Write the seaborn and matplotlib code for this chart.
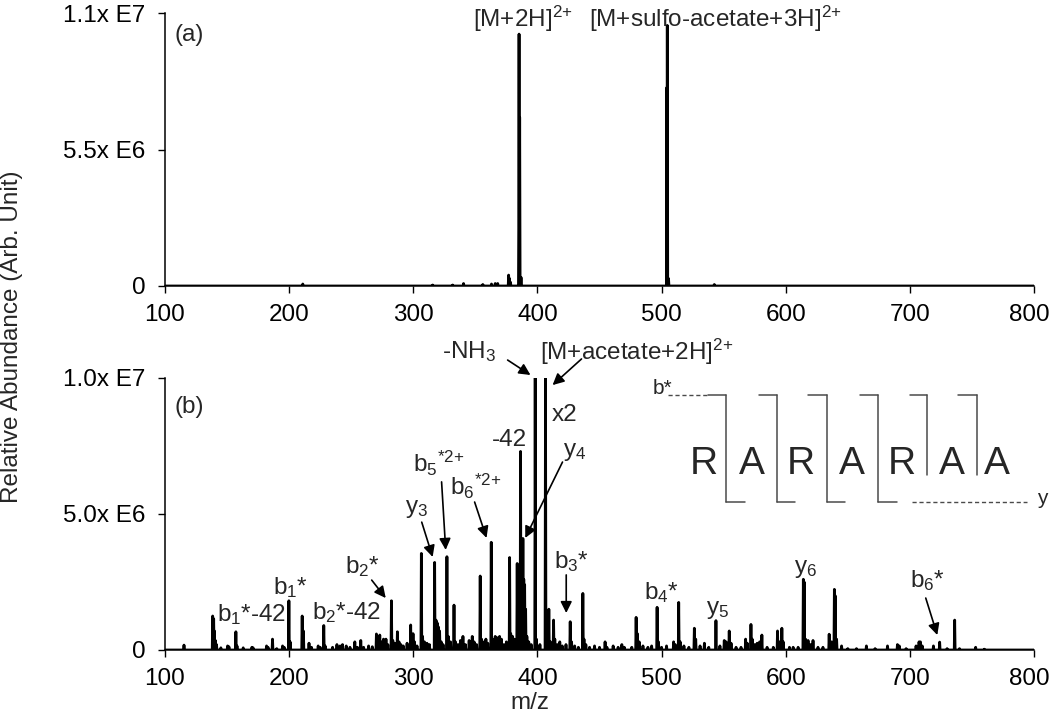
import numpy as np
import pandas as pd
import matplotlib
matplotlib.use("Agg")
import matplotlib.pyplot as plt
import matplotlib.transforms as mtransforms
import seaborn as sns

# ---------------- data ----------------
# Panel (a): full MS, peak m/z and intensity (x1e6)
mz_a = [211, 315.6, 331.7, 340.5, 356, 363, 366, 368, 376.8, 377.5, 378.3,
        385.2, 385.7, 386.8, 504.3, 504.6, 505.6, 542.5]
int_a = [0.08, 0.04, 0.04, 0.10, 0.06, 0.08, 0.10, 0.10, 0.44, 0.30, 0.15,
         10.15, 6.8, 0.35, 8.0, 10.5, 0.30, 0.06]

# Panel (b): MS/MS spectrum, peak m/z and intensity (x1e6)
mz_b = [115.3, 138.4, 139.2, 139.8, 140.6, 141.5, 145, 150.4, 151.5, 157.1, 158,
        163, 170, 171, 181.8, 183, 186.6, 190, 194.7, 196, 199.8, 200.8, 210.5,
        211.5, 216, 218, 223.4, 225, 227.9, 229, 235, 238.5, 241, 243, 246, 249,
        252.9, 255, 257.7, 260, 264, 267, 270.3, 271.5, 273, 274.5, 276, 278,
        279.5, 282.4, 283.5, 285, 287.2, 288.5, 290, 292, 295, 297.9, 299.8, 301,
        303, 306.5, 307.5, 309, 311, 313, 317.2, 318.3, 319.2, 320.2, 321.2,
        322.5, 324, 327.1, 328.2, 330, 332.8, 334, 336, 338, 340, 342, 345,
        347.5, 349, 351, 353.9, 355, 357, 358.5, 360, 362.8, 364, 366, 368,
        369.5, 371, 373, 375, 377.6, 378.5, 380, 381.5, 383.7, 384.5, 385.3,
        386.4, 387.2, 388.3, 389, 389.7, 390.5, 391.5, 393, 395, 398.2, 399.2,
        402, 406.5, 407.5, 409.2, 410.5, 413, 414, 416, 418, 420, 423, 426.4,
        427.5, 430, 433, 436.6, 437.5, 439, 442, 446, 450, 454.5, 456, 461, 465,
        468, 470, 476, 479.5, 480.5, 482, 485, 489, 492, 496.4, 497.5, 500, 504,
        509.7, 511, 513.8, 515, 518, 522, 526.4, 527.5, 531, 534.5, 538, 543.8,
        547, 550.5, 552, 554.5, 556, 560, 564, 567.7, 569, 572, 573, 575, 577,
        579, 580.8, 585, 590, 593.4, 595, 596.9, 598, 603, 606, 610, 614.2,
        614.9, 616, 618, 620, 622, 626, 630, 635, 637, 639.2, 639.8, 641, 645,
        650, 657, 665, 672, 682, 690, 691.5, 697, 705, 707.4, 708.5, 710, 719,
        724, 730, 736.1, 740, 753, 760]
int_b = [0.18, 1.25, 1.15, 0.7, 0.35, 0.2, 0.08, 0.15, 0.12, 0.67, 0.15,
         0.08, 0.1, 0.08, 0.15, 0.1, 0.4, 0.05, 0.15, 0.1, 1.81, 0.3, 1.25,
         0.7, 0.25, 0.1, 0.15, 0.1, 0.9, 0.15, 0.1, 0.2, 0.15, 0.2, 0.15, 0.1,
         0.3, 0.1, 0.35, 0.1, 0.15, 0.12, 0.59, 0.5, 0.55, 0.3, 0.4, 0.4,
         0.2, 1.81, 0.35, 0.25, 0.67, 0.3, 0.2, 0.15, 0.25, 0.92, 0.6, 0.3,
         0.15, 3.55, 0.5, 0.3, 0.25, 0.2, 3.22, 1.1, 1.0, 0.85, 0.7,
         0.3, 0.2, 3.43, 0.5, 0.3, 1.65, 0.3, 0.2, 0.35, 0.5, 0.2, 0.35,
         0.5, 0.3, 0.2, 2.72, 0.4, 0.3, 0.4, 0.25, 3.96, 0.4, 0.5, 0.45,
         0.5, 0.4, 0.2, 0.3, 3.4, 0.6, 0.5, 0.4, 3.18, 2.7, 2.4,
         7.3, 2.5, 4.1, 2.6, 2.4, 1.5, 0.5, 0.3, 0.2, 10.0, 0.4,
         0.2, 10.0, 0.5, 1.5, 0.3, 1.1, 0.4, 0.2, 0.3, 0.15, 0.2, 1.04,
         0.3, 0.15, 0.1, 2.08, 0.4, 0.2, 0.1, 0.15, 0.1, 0.3, 0.1, 0.15, 0.1,
         0.2, 0.1, 0.1, 1.2, 0.6, 0.3, 0.15, 0.1, 0.15, 1.57, 0.3, 0.1, 0.15,
         0.3, 0.2, 1.75, 0.3, 0.15, 0.1, 0.8, 0.4, 0.15, 0.25, 0.1, 1.08,
         0.15, 0.35, 0.3, 0.7, 0.25, 0.1, 0.1, 0.4, 0.25, 0.94, 0.4, 0.2, 0.25,
         0.3, 0.55, 0.1, 0.1, 0.7, 0.3, 0.8, 0.3, 0.1, 0.1, 0.1, 2.6,
         2.5, 0.4, 0.35, 0.2, 0.35, 0.1, 0.1, 0.58, 0.3, 2.23, 2.0, 0.4, 0.15,
         0.05, 0.05, 0.15, 0.05, 0.15, 0.2, 0.15, 0.05, 0.15, 0.3, 0.3, 0.15, 0.15,
         0.29, 0.05, 1.1, 0.05, 0.1, 0.03]

xticks = [100, 200, 300, 400, 500, 600, 700, 800]
yticks_a = [0, 5.5e6, 1.1e7]
ylabels_a = ["0", "5.5x E6", "1.1x E7"]
yticks_b = [0, 5.0e6, 1.0e7]
ylabels_b = ["0", "5.0x E6", "1.0x E7"]

SUP2 = r"$^{2\text{+}}$"
SUPS2 = r"$^{*2\text{+}}$"

# peak annotations (text, x, y, ha) for panel b
labels_b = [
    (r"b$_1$*-42", 170, 1.29e6, "center"),
    (r"b$_1$*", 201.4, 2.3e6, "center"),
    (r"b$_2$*-42", 246.4, 1.36e6, "center"),
    (r"b$_2$*", 259.3, 3.05e6, "center"),
    (r"y$_3$", 302.7, 5.2e6, "center"),
    (r"b$_5$" + SUPS2, 320.4, 6.87e6, "center"),
    (r"b$_6$" + SUPS2, 350.2, 6.0e6, "center"),
    ("-42", 377.5, 7.72e6, "center"),
    (r"-NH$_3$", 344.6, 1.096e7, "center"),
    ("[M+acetate+2H]" + SUP2, 401.7, 1.096e7, "left"),
    ("x2", 421.8, 8.64e6, "center"),
    (r"y$_4$", 429.9, 7.28e6, "center"),
    (r"b$_3$*", 427.4, 3.27e6, "center"),
    (r"b$_4$*", 500.0, 2.1e6, "center"),
    (r"y$_5$", 544.9, 1.47e6, "center"),
    (r"y$_6$", 615.7, 2.98e6, "center"),
    (r"b$_6$*", 713.8, 2.57e6, "center"),
]
# arrows (tail x, tail y, head x, head y)
arrows_b = [
    (266.5, 2.57e6, 277.8, 1.91e6),
    (306.8, 4.70e6, 315.6, 3.42e6),
    (322.8, 6.18e6, 326.1, 3.68e6),
    (349.4, 5.44e6, 359.0, 4.12e6),
    (376.0, 1.066e7, 394.4, 1.011e7),
    (435.5, 1.07e7, 412.2, 9.74e6),
    (420.2, 6.91e6, 390.2, 4.12e6),
    (423.2, 2.76e6, 423.2, 1.36e6),
    (712.8, 1.91e6, 722.1, 0.55e6),
]

# ---------------- style ----------------
sns.set_style("ticks")
plt.rcParams["font.family"] = ["Liberation Sans", "DejaVu Sans"]
plt.rcParams["mathtext.fontset"] = "custom"
plt.rcParams["mathtext.rm"] = "Liberation Sans"
plt.rcParams["mathtext.it"] = "Liberation Sans"
plt.rcParams["mathtext.bf"] = "Liberation Sans"
plt.rcParams["mathtext.default"] = "regular"
FS = 17.5


def profile(mz, inten, w=0.35):
    rows = [(100.0, 0.0)]
    for m, h in sorted(zip(mz, inten)):
        rows += [(m - w, 0.0), (m, h * 1e6), (m + w, 0.0)]
    rows.append((800.0, 0.0))
    return pd.DataFrame(rows, columns=["mz", "intensity"])


fig = plt.figure(figsize=(10.5, 7.16), dpi=100)
ax_a = fig.add_axes([165 / 1050, 1 - 286 / 716, 869 / 1050, 273 / 716])
ax_b = fig.add_axes([165 / 1050, 1 - 650 / 716, 869 / 1050, 272 / 716])

for ax, mz, it, yt, yl, top in [(ax_a, mz_a, int_a, yticks_a, ylabels_a, 1.1e7),
                                (ax_b, mz_b, int_b, yticks_b, ylabels_b, 1.0e7)]:
    sns.lineplot(data=profile(mz, it), x="mz", y="intensity", ax=ax,
                 color="black", lw=2.0, estimator=None, sort=False)
    ax.set_xlim(100, 800)
    ax.set_ylim(0, top)
    ax.set_xticks(xticks)
    ax.set_xticklabels([str(t) for t in xticks], fontsize=FS)
    ax.set_yticks(yt)
    ax.set_yticklabels(yl, fontsize=FS)
    ax.set_xlabel("")
    ax.set_ylabel("")
    for s in ["top", "right"]:
        ax.spines[s].set_visible(False)
    for s in ["left", "bottom"]:
        ax.spines[s].set_linewidth(1.1)
        ax.spines[s].set_color("black")
    ax.tick_params(axis="both", direction="out", length=5, width=1.0,
                   color="black", labelcolor="black")
    ax.tick_params(axis="y", pad=9)
    ax.tick_params(axis="x", pad=8)
    ax.patch.set_alpha(0)
    # the last tick label sits slightly left of its tick, as in the reference
    last = ax.get_xticklabels()[-1]
    last.set_transform(last.get_transform() +
                       mtransforms.ScaledTranslation(-5 / 100, 0, fig.dpi_scale_trans))

ax_a.text(0.0115, 0.919, "(a)", transform=ax_a.transAxes, fontsize=FS,
          ha="left", va="center")
ax_b.text(0.0115, 0.893, "(b)", transform=ax_b.transAxes, fontsize=FS,
          ha="left", va="center")

ax_a.text(347.8, 1.076e7, "[M+2H]" + SUP2, fontsize=FS, ha="left",
          va="center", clip_on=False)
ax_a.text(441.9, 1.076e7, "[M+sulfo-acetate+3H]" + SUP2, fontsize=FS,
          ha="left", va="center", clip_on=False)

for txt, x, y, ha in labels_b:
    ax_b.text(x, y, txt, fontsize=FS, ha=ha, va="center", clip_on=False)
for tx, ty, hx, hy in arrows_b:
    ax_b.annotate("", xy=(hx, hy), xytext=(tx, ty),
                  arrowprops=dict(arrowstyle="-|>", color="black", lw=1.2,
                                  mutation_scale=17, shrinkA=0, shrinkB=0),
                  annotation_clip=False)

fig.text(12 / 1050, 1 - 337 / 716, "Relative Abundance (Arb. Unit)",
         rotation=90, ha="center", va="center", fontsize=FS)
fig.text(530 / 1050, 1 - 703 / 716, "m/z", ha="center", va="center",
         fontsize=FS)

# ---------------- sequence inset (schematic, figure pixel coords) -------------
ov = fig.add_axes([0, 0, 1, 1])
ov.set_xlim(0, 1050)
ov.set_ylim(716, 0)
ov.axis("off")
ov.patch.set_alpha(0)

residues = ["R", "A", "R", "A", "R", "A", "A"]
res_x = [704, 751.7, 800.7, 852.3, 902.3, 951.7, 997.3]
cut_x = [726, 776.7, 826.7, 878.3, 926.7, 976.7]
top_left = [708.3, 759.3, 808.3, 860, 910, 958.3]
bot_right = [745, 795, 845, 896.7]
y_top, y_bot, y_mid = 395, 501.7, 475
lc = "#4a4a4a"
for i, cx in enumerate(cut_x):
    ov.plot([top_left[i], cx], [y_top, y_top], color=lc, lw=1.1)
    if i < len(bot_right):
        ov.plot([cx, cx], [y_top, y_bot], color=lc, lw=1.1)
        ov.plot([cx, bot_right[i]], [y_bot, y_bot], color=lc, lw=1.1)
    else:
        ov.plot([cx, cx], [y_top, y_mid], color=lc, lw=1.1)
ov.plot([668, 707], [y_top, y_top], color=lc, lw=1.0, ls=(0, (3, 2)))
ov.plot([912, 1027], [y_bot, y_bot], color=lc, lw=1.0, ls=(0, (3, 2)))
ov.text(662, 389, "b*", fontsize=15, ha="center", va="center")
ov.text(1042, 499, "y", fontsize=15, ha="center", va="center")
for r, x in zip(residues, res_x):
    ov.text(x, 464, r, fontsize=28, ha="center", va="center")

fig.savefig("out.png", dpi=100)
